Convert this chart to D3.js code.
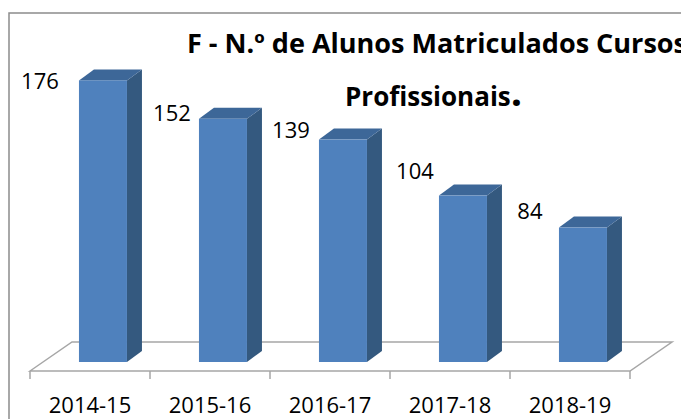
<!DOCTYPE html>
<html>
<head>
<meta charset="utf-8">
<script src="https://cdn.jsdelivr.net/npm/d3@7"></script>
<style>
  html, body { margin: 0; padding: 0; background: #fff; }
  svg { display: block; }
</style>
</head>
<body>
<svg id="chart" width="681" height="419"></svg>
<script>
// data
const years = ["2014-15", "2015-16", "2016-17", "2017-18", "2018-19"];
const alunos = [176, 152, 139, 104, 84];
const titleLine1 = "F - N.º de Alunos Matriculados Cursos";
const titleLine2 = "Profissionais";

// excel puts the value labels a bit all over the place
const labelDx = [-39, -27, -28, -24, -29];
const labelDy = [9, 2, -2, -17, -9];

const svg = d3.select("#chart");
const font = "'Open Sans', Lato, sans-serif";

// frame
svg.append("rect")
  .attr("x", 9).attr("y", 13)
  .attr("width", 700).attr("height", 430)
  .attr("fill", "#fff")
  .attr("stroke", "#8c8c8c")
  .attr("stroke-width", 1.5);

const x = d3.scaleBand().domain(years).range([30, 630]).padding(0);
const y = d3.scaleLinear().domain([0, 200]).range([362, 42]);

const floorY = 371;
const floorDx = 42, floorDy = 29;
const barDx = 15, barDy = 11;
const step = x.bandwidth();
const barW = step * 0.4;
const barOff = step * 0.408;

// floor
const x0 = x.range()[0], x1 = x.range()[1];
svg.append("path")
  .attr("d", `M${x0},${floorY} L${x0 + floorDx},${floorY - floorDy} L${x1 + floorDx},${floorY - floorDy} L${x1},${floorY} Z`)
  .attr("fill", "#fff")
  .attr("stroke", "#a6a6a6")
  .attr("stroke-width", 1.5);

// ticks on band edges
const edges = years.map(d => x(d)).concat([x1]);
svg.append("g").selectAll("line")
  .data(edges)
  .enter()
  .append("line")
  .attr("x1", d => d).attr("x2", d => d)
  .attr("y1", floorY).attr("y2", floorY + 8)
  .attr("stroke", "#a6a6a6")
  .attr("stroke-width", 1.5);

// bars
const bars = svg.append("g").selectAll("g")
  .data(alunos)
  .enter()
  .append("g");

bars.each(function (v, i) {
  const g = d3.select(this);
  const bx = x(years[i]) + barOff;
  const yt = y(v), yb = y(0);

  g.append("path") // side
    .attr("d", `M${bx + barW},${yt} L${bx + barW + barDx},${yt - barDy} L${bx + barW + barDx},${yb - barDy} L${bx + barW},${yb} Z`)
    .attr("fill", "#34597f");
  g.append("path") // top
    .attr("d", `M${bx},${yt} L${bx + barDx},${yt - barDy} L${bx + barW + barDx},${yt - barDy} L${bx + barW},${yt} Z`)
    .attr("fill", "#3d6798");
  g.append("rect") // front
    .attr("x", bx).attr("y", yt)
    .attr("width", barW).attr("height", yb - yt)
    .attr("fill", "#4f81bd");
});

// value labels
svg.append("g").selectAll("text")
  .data(alunos)
  .enter()
  .append("text")
  .attr("x", (d, i) => x(years[i]) + barOff + labelDx[i])
  .attr("y", (d, i) => y(d) + labelDy[i])
  .attr("text-anchor", "middle")
  .style("font-family", font)
  .style("font-size", "22px")
  .attr("fill", "#000")
  .text(d => d);

// category labels
svg.append("g").selectAll("text")
  .data(years)
  .enter()
  .append("text")
  .attr("x", d => x(d) + step / 2)
  .attr("y", 413)
  .attr("text-anchor", "middle")
  .style("font-family", font)
  .style("font-size", "22px")
  .attr("fill", "#000")
  .text(d => d);

// title (runs off the right edge like the original)
svg.append("text")
  .attr("x", 187).attr("y", 53)
  .attr("textLength", 500)
  .attr("lengthAdjust", "spacingAndGlyphs")
  .style("font-family", font)
  .style("font-size", "26px")
  .style("font-weight", "bold")
  .text(titleLine1);

const t2 = svg.append("text")
  .attr("x", 345).attr("y", 106)
  .style("font-family", font)
  .style("font-size", "26px")
  .style("font-weight", "bold");
t2.append("tspan").text(titleLine2);
t2.append("tspan").style("font-size", "40px").text(".");
</script>
</body>
</html>
